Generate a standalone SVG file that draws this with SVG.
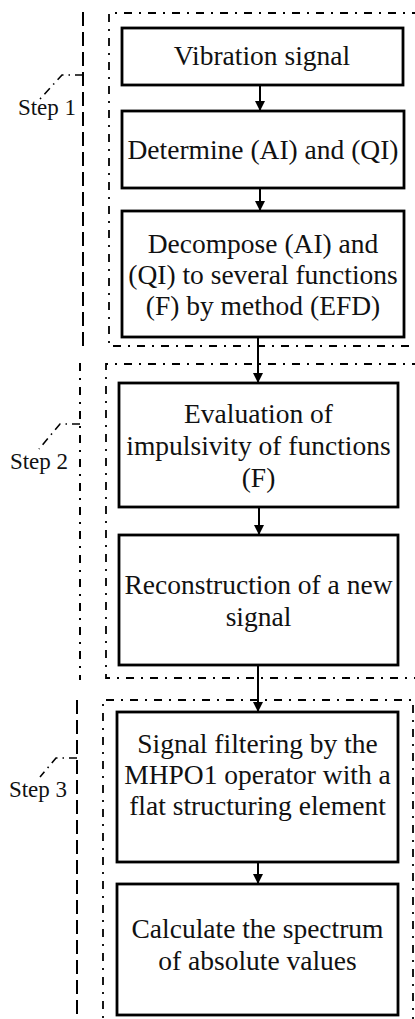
<svg xmlns="http://www.w3.org/2000/svg" width="415" height="1019" viewBox="0 0 415 1019">
<style>
.bg{fill:#ffffff}
.node rect{fill:#ffffff;stroke:#000;stroke-width:2.8}
.node text,.step text{font-family:"Liberation Serif","Times New Roman",serif;fill:#111;text-anchor:middle}
.node text{font-size:27.5px}
.step text{font-size:23px}
.group{fill:none;stroke:#000;stroke-width:1.8;stroke-dasharray:8,7,2,7}
.dash{fill:none;stroke:#000;stroke-width:2;stroke-dasharray:14,6}
.dashdot{fill:none;stroke:#000;stroke-width:2;stroke-dasharray:8,7,2,7}
.lead{fill:none;stroke:#000;stroke-width:1.6;stroke-dasharray:8,5,1.5,5}
.conn line{stroke:#000;stroke-width:2}
</style>
<defs>
<marker id="arr" viewBox="0 0 10 10" refX="10" refY="5" markerWidth="10" markerHeight="10" markerUnits="userSpaceOnUse" orient="auto">
<path d="M0,0 L10,5 L0,10 Z" fill="#000"/>
</marker>
</defs>
<rect class="bg" x="0" y="0" width="415" height="1019"/>

<g id="groups">
<path class="group" d="M420,13 H109 V346 H420"/>
<path class="group" d="M420,364 H106 V678 H420"/>
<path class="group" d="M413,1025 V700 H103 V1025"/>
</g>

<g id="step1" class="step">
<path class="dash" d="M83,12 V347"/>
<path class="lead" d="M83,75 H62 L40,99"/>
<text x="47" y="115">Step 1</text>
</g>
<g id="step2" class="step">
<path class="dashdot" d="M80,363 V680"/>
<path class="lead" d="M80,424 H60 L39,449"/>
<text x="39" y="469">Step 2</text>
</g>
<g id="step3" class="step">
<path class="dash" d="M77,700 V1019"/>
<path class="lead" d="M77,758 H56 L40,777"/>
<text x="38" y="797">Step 3</text>
</g>

<g id="connectors" class="conn">
<line x1="260" y1="85" x2="260" y2="111" marker-end="url(#arr)"/>
<line x1="260" y1="188" x2="260" y2="211" marker-end="url(#arr)"/>
<line x1="258" y1="337" x2="258" y2="383" marker-end="url(#arr)"/>
<line x1="259" y1="507" x2="259" y2="535" marker-end="url(#arr)"/>
<line x1="258" y1="665" x2="258" y2="712" marker-end="url(#arr)"/>
<line x1="258" y1="862" x2="258" y2="884" marker-end="url(#arr)"/>
</g>

<g id="vibration" class="node">
<rect x="122" y="28" width="281" height="57"/>
<text x="262" y="65">Vibration signal</text>
</g>
<g id="determine" class="node">
<rect x="122" y="111" width="282" height="77"/>
<text x="263" y="159">Determine (AI) and (QI)</text>
</g>
<g id="decompose" class="node">
<rect x="122" y="211" width="282" height="126"/>
<text x="263" y="253">Decompose (AI) and</text>
<text x="263" y="284">(QI) to several functions</text>
<text x="263" y="315">(F) by method (EFD)</text>
</g>
<g id="evaluation" class="node">
<rect x="119" y="383" width="279" height="124"/>
<text x="258.5" y="423">Evaluation of</text>
<text x="258.5" y="455">impulsivity of functions</text>
<text x="258.5" y="487">(F)</text>
</g>
<g id="reconstruction" class="node">
<rect x="119" y="535" width="279" height="130"/>
<text x="258.5" y="594">Reconstruction of a new</text>
<text x="258.5" y="626">signal</text>
</g>
<g id="filtering" class="node">
<rect x="117" y="712" width="281" height="150"/>
<text x="257.5" y="753">Signal filtering by the</text>
<text x="257.5" y="784">MHPO1 operator with a</text>
<text x="257.5" y="815">flat structuring element</text>
</g>
<g id="spectrum" class="node">
<rect x="117" y="884" width="281" height="131"/>
<text x="257.5" y="938">Calculate the spectrum</text>
<text x="257.5" y="970">of absolute values</text>
</g>
</svg>
